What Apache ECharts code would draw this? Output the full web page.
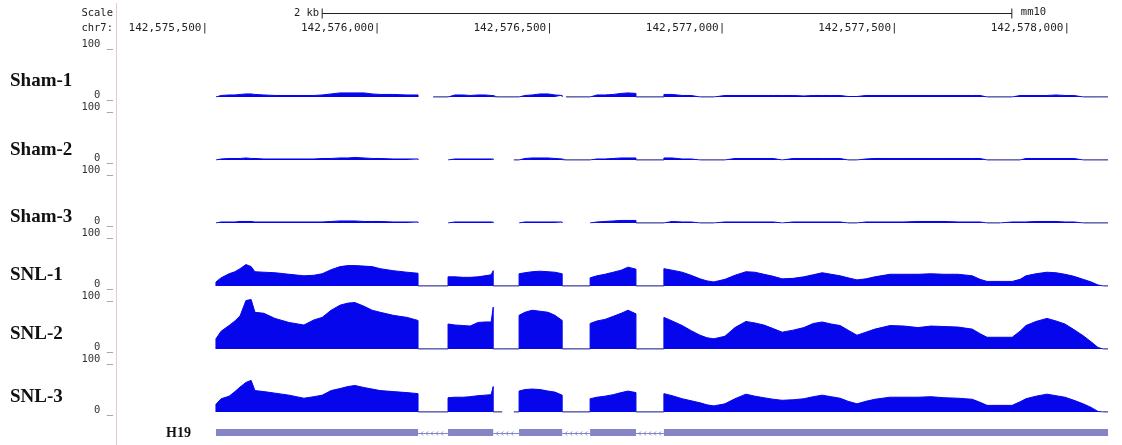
<!DOCTYPE html>
<html>
<head>
<meta charset="utf-8">
<title>H19 coverage</title>
<script src="https://cdn.jsdelivr.net/npm/echarts@6/dist/echarts.min.js"></script>
<style>
  html, body { margin: 0; padding: 0; background: #fff; }
  #chart { width: 1122px; height: 445px; }
</style>
</head>
<body>
<div id="chart"></div>
<script>
// genome window (chr7, mm10)
const regionBase = 142575500
const viewMin = 142575236
const viewMax = 142578136
const rulerTicks = [142575500, 142576000, 142576500, 142577000, 142577500, 142578000]
const scaleBar = [142575831, 142577831]

// H19 exons, offsets from regionBase
const exonStarts = [23, 696, 902, 1108, 1322]
const exonEnds = [609, 827, 1027, 1241, 2610]

// sample positions (offsets from regionBase), shared by all tracks
const positions = [
  23, 23, 38, 61, 78, 93, 110, 125, 136, 162, 194, 235, 278, 307, 331, 357, 383, 406, 426, 452, 476, 499, 537, 577, 609, 609,
  629, 653, 696,
  696, 716, 740, 760, 783, 803, 821, 827, 827,
  838, 853, 870, 887, 902,
  902, 919, 940, 963, 986, 1006, 1027, 1027,
  1032, 1038, 1073, 1108,
  1108, 1128, 1151, 1175, 1198, 1218, 1241, 1241,
  1282, 1322,
  1322, 1346, 1375, 1401, 1427, 1447, 1467, 1499, 1528, 1560, 1586, 1612, 1639, 1665, 1697, 1728, 1755, 1781, 1807, 1833,
  1856, 1882, 1908, 1934, 1978, 2018, 2059, 2097, 2134, 2175, 2216, 2239, 2259, 2297, 2332, 2355, 2372, 2401, 2433, 2459,
  2485, 2511, 2538, 2561, 2581, 2596, 2610
]

// coverage (0-100), null = no data
const sham1 = [
  0, 2, 3, 4, 4, 5, 6, 6, 5, 4, 3, 3, 3, 3, 4, 6, 8, 8, 8, 8, 6, 5, 5, 4, 4, 0,
  null, 0, 0,
  3, 4, 4, 3, 4, 4, 3, 3, 0,
  0, 0, 0, 0, 0,
  3, 3, 4, 6, 6, 4, 3, 0,
  null, 0, 0, 0,
  3, 4, 4, 5, 7, 8, 7, 0,
  0, 0,
  5, 5, 3, 3, 0, 0, 0, 3, 3, 3, 3, 3, 3, 3, 3, 2, 3, 3, 3, 3,
  1, 1, 3, 3, 3, 3, 3, 3, 3, 3, 3, 3, 0, 0, 0, 3, 3, 3, 3, 4,
  3, 3, 0, 0, 0, 0, 0
]
const sham2 = [
  0, 2, 2, 3, 3, 3, 4, 3, 3, 2, 2, 2, 2, 2, 3, 3, 4, 4, 5, 4, 3, 3, 2, 2, 2, 0,
  null, null, 0,
  2, 2, 2, 2, 2, 2, 2, 2, 0,
  null, null, null, 0, 0,
  2, 3, 4, 4, 4, 3, 2, 0,
  0, 0, 0, 0,
  2, 2, 2, 3, 4, 4, 4, 0,
  0, 0,
  4, 4, 2, 2, 0, 0, 0, 0, 3, 3, 3, 3, 3, 0, 3, 3, 3, 3, 3, 3,
  0, 0, 2, 3, 3, 3, 3, 3, 3, 3, 3, 3, 0, 0, 0, 0, 3, 3, 3, 3,
  3, 3, 0, 0, 0, 0, 0
]
const sham3 = [
  0, 2, 2, 2, 2, 3, 3, 3, 2, 2, 2, 2, 2, 2, 2, 3, 4, 4, 4, 3, 3, 3, 2, 2, 2, 0,
  null, null, 0,
  2, 2, 2, 2, 2, 2, 2, 2, 0,
  null, null, null, null, 0,
  2, 2, 2, 2, 2, 2, 2, 0,
  null, null, null, 0,
  2, 2, 3, 4, 5, 5, 5, 0,
  0, 0,
  3, 3, 2, 2, 0, 0, 0, 2, 2, 2, 2, 2, 2, 0, 2, 2, 2, 2, 2, 2,
  0, 0, 2, 2, 2, 2, 3, 3, 3, 2, 2, 2, 0, 0, 2, 2, 2, 3, 3, 3,
  2, 2, 0, 0, 0, 0, 0
]
const snl1 = [
  0, 8, 16, 24, 28, 34, 42, 38, 28, 27, 26, 23, 20, 21, 24, 32, 38, 40, 40, 39, 38, 34, 30, 27, 25, 0,
  0, 0, 0,
  18, 18, 17, 17, 18, 20, 22, 30, 0,
  0, 0, 0, 0, 0,
  24, 26, 28, 29, 28, 27, 24, 0,
  0, 0, 0, 0,
  16, 20, 23, 27, 31, 37, 33, 0,
  0, 0,
  34, 31, 27, 21, 14, 10, 8, 13, 21, 28, 27, 23, 19, 14, 15, 18, 22, 26, 23, 20,
  16, 12, 14, 18, 23, 23, 23, 24, 23, 23, 20, 13, 9, 9, 9, 13, 20, 24, 27, 26,
  23, 19, 13, 8, 2, 0, 0
]
const snl2 = [
  0, 20, 35, 46, 55, 65, 95, 97, 72, 70, 60, 52, 47, 57, 62, 76, 86, 90, 91, 84, 76, 72, 66, 62, 56, 0,
  0, 0, 0,
  49, 47, 46, 45, 52, 53, 53, 82, 0,
  0, 0, 0, 0, 0,
  66, 72, 76, 74, 72, 66, 56, 0,
  0, 0, 0, 0,
  50, 55, 58, 64, 70, 76, 69, 0,
  0, 0,
  62, 55, 46, 36, 27, 22, 20, 25, 42, 54, 51, 47, 40, 33, 37, 42, 50, 53, 49, 46,
  37, 27, 33, 39, 46, 45, 42, 45, 44, 43, 39, 30, 23, 23, 23, 35, 46, 54, 60, 55,
  49, 38, 26, 14, 3, 0, 0
]
const snl3 = [
  0, 15, 26, 31, 40, 49, 58, 62, 42, 40, 37, 33, 27, 30, 33, 42, 46, 50, 52, 48, 45, 42, 40, 38, 36, 0,
  0, 0, 0,
  28, 29, 29, 30, 32, 33, 34, 50, 0,
  0, 0, null, 0, 0,
  41, 44, 45, 44, 41, 39, 33, 0,
  0, 0, 0, 0,
  26, 29, 31, 34, 38, 41, 38, 0,
  0, 0,
  36, 32, 26, 22, 18, 14, 12, 16, 26, 35, 31, 28, 25, 23, 24, 26, 30, 33, 30, 27,
  21, 16, 21, 25, 29, 29, 29, 30, 28, 27, 25, 19, 13, 13, 13, 20, 26, 31, 35, 32,
  29, 23, 16, 9, 1, 0, 0
]

const trackNames = ['Sham-1', 'Sham-2', 'Sham-3', 'SNL-1', 'SNL-2', 'SNL-3']
const tracks = [sham1, sham2, sham3, snl1, snl2, snl3]

// layout
const labelY = [82, 151, 218, 276, 335, 398]
const plotLeft = 117
const plotWidth = 1000
const blue = '#0606ec'
const geneColor = '#8484c6'
const mono = 'DejaVu Sans Mono'

const chart = echarts.init(document.getElementById('chart'))

const grids = [], xAxes = [], yAxes = [], series = []
const hiddenY = (i, max) => ({ gridIndex: i, type: 'value', min: 0, max: max, show: false })
const hiddenX = i => ({ gridIndex: i, type: 'value', min: viewMin, max: viewMax, show: false })

tracks.forEach((vals, i) => {
  grids.push({ left: plotLeft, width: plotWidth, top: 46 + 63 * i, height: 51, outerBoundsMode: 'none' })
  xAxes.push(hiddenX(i))
  yAxes.push({
    gridIndex: i, type: 'value', min: 0, max: 100, interval: 100,
    axisLine: { show: false }, axisTick: { show: false }, splitLine: { show: false },
    axisLabel: {
      formatter: v => v + ' _', fontFamily: mono, fontSize: 10.5, color: '#333',
      margin: 4, verticalAlign: 'bottom', lineHeight: 4
    }
  })
  series.push({
    type: 'line', xAxisIndex: i, yAxisIndex: i, silent: true, showSymbol: false, z: 2,
    data: positions.map((p, k) => [regionBase + p, vals[k] == null ? '-' : vals[k]]),
    lineStyle: { color: blue, width: 1 },
    areaStyle: { color: blue, opacity: 1 }
  })
  // zero-coverage baseline
  series.push({
    type: 'line', xAxisIndex: i, yAxisIndex: i, silent: true, showSymbol: false, z: 3,
    data: positions.map((p, k) => [regionBase + p, vals[k] === 0 ? 0 : '-']),
    lineStyle: { color: '#55556a', width: 1 }
  })
})

// ruler labels
grids.push({ left: plotLeft, width: plotWidth, top: 35, height: 1, outerBoundsMode: 'none' })
xAxes.push({
  gridIndex: 6, type: 'value', min: viewMin, max: viewMax, position: 'top',
  axisLine: { show: false }, axisTick: { show: false }, splitLine: { show: false },
  axisLabel: {
    customValues: rulerTicks, margin: 1, align: 'right',
    formatter: v => v.toLocaleString('en-US') + '|',
    fontFamily: mono, fontSize: 11, color: '#222'
  }
})
yAxes.push(hiddenY(6, 1))

// scale bar
grids.push({ left: plotLeft, width: plotWidth, top: 8, height: 10, outerBoundsMode: 'none' })
xAxes.push(hiddenX(7))
yAxes.push(hiddenY(7, 1))
series.push({
  type: 'custom', xAxisIndex: 7, yAxisIndex: 7, silent: true, clip: false,
  data: [[scaleBar[0], scaleBar[1]]],
  encode: { x: [0, 1] },
  renderItem: (params, api) => {
    const a = api.coord([api.value(0), 0.5])
    const b = api.coord([api.value(1), 0.5])
    const y = Math.round(a[1]) + 0.5
    const st = { stroke: '#222', lineWidth: 1 }
    const font = '10.5px ' + mono
    return {
      type: 'group',
      children: [
        { type: 'line', shape: { x1: a[0], y1: y, x2: b[0], y2: y }, style: st },
        { type: 'line', shape: { x1: a[0], y1: y - 5, x2: a[0], y2: y + 5 }, style: st },
        { type: 'line', shape: { x1: b[0], y1: y - 5, x2: b[0], y2: y + 5 }, style: st },
        { type: 'text', style: { text: '2 kb', x: a[0] - 3, y: y, align: 'right', verticalAlign: 'middle', font: font, fill: '#222' } },
        { type: 'text', style: { text: 'mm10', x: b[0] + 9, y: y - 1, align: 'left', verticalAlign: 'middle', font: font, fill: '#222' } }
      ]
    }
  }
})

// gene model
grids.push({ left: plotLeft, width: plotWidth, top: 429, height: 7, outerBoundsMode: 'none' })
xAxes.push(hiddenX(8))
yAxes.push(hiddenY(8, 1))
series.push({
  type: 'custom', xAxisIndex: 8, yAxisIndex: 8, silent: true, clip: false,
  data: exonEnds.slice(0, -1).map((e, i) => [regionBase + e, regionBase + exonStarts[i + 1]]),
  encode: { x: [0, 1] },
  renderItem: (params, api) => {
    const a = api.coord([api.value(0), 0.5])
    const b = api.coord([api.value(1), 0.5])
    const y = Math.round(a[1]) + 0.5
    const st = { stroke: geneColor, lineWidth: 1, fill: null }
    const kids = [{ type: 'line', shape: { x1: a[0], y1: y, x2: b[0], y2: y }, style: st }]
    for (let x = a[0] + 3; x < b[0] - 3; x += 5) {
      kids.push({ type: 'polyline', shape: { points: [[x + 2, y - 2], [x, y], [x + 2, y + 2]] }, style: st })
    }
    return { type: 'group', children: kids }
  }
})
series.push({
  type: 'custom', xAxisIndex: 8, yAxisIndex: 8, silent: true, clip: false,
  data: exonStarts.map((s, i) => [regionBase + s, regionBase + exonEnds[i]]),
  encode: { x: [0, 1] },
  renderItem: (params, api) => {
    const a = api.coord([api.value(0), 1])
    const b = api.coord([api.value(1), 0])
    return { type: 'rect', shape: { x: a[0], y: a[1], width: b[0] - a[0], height: b[1] - a[1] }, style: { fill: geneColor } }
  }
})

const texts = trackNames.map((name, i) => ({
  type: 'text', left: 10, top: labelY[i] - 10,
  style: { text: name, font: 'bold 19px "Liberation Serif"', fill: '#111' }
}))

chart.setOption({
  animation: false,
  grid: grids,
  xAxis: xAxes,
  yAxis: yAxes,
  series: series,
  graphic: texts.concat([
    { type: 'line', shape: { x1: 116.5, y1: 3, x2: 116.5, y2: 445 }, style: { stroke: '#e6c8c8', lineWidth: 1 } },
    { type: 'text', style: { text: 'Scale', x: 113, y: 13, align: 'right', verticalAlign: 'middle', font: '10.5px ' + mono, fill: '#222' } },
    { type: 'text', style: { text: 'chr7:', x: 113, y: 28, align: 'right', verticalAlign: 'middle', font: '10.5px ' + mono, fill: '#222' } },
    { type: 'text', style: { text: 'H19', x: 191, y: 433, align: 'right', verticalAlign: 'middle', font: 'bold 14px "Liberation Serif"', fill: '#111' } }
  ])
})

window.addEventListener('resize', () => chart.resize())
</script>
</body>
</html>
